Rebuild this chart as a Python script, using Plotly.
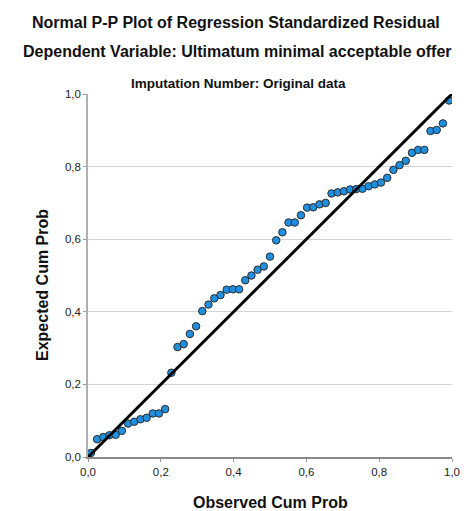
import plotly.graph_objects as go

# Observed vs expected cumulative probabilities of the standardized residuals
observed_cum_prob = [
    0.008, 0.025, 0.042, 0.059, 0.076, 0.093, 0.110, 0.127, 0.144, 0.161,
    0.178, 0.195, 0.212, 0.229, 0.246, 0.263, 0.280, 0.297, 0.314, 0.331,
    0.347, 0.364, 0.381, 0.398, 0.415, 0.432, 0.449, 0.466, 0.483, 0.500,
    0.517, 0.534, 0.551, 0.568, 0.585, 0.602, 0.619, 0.636, 0.653, 0.669,
    0.686, 0.703, 0.720, 0.737, 0.754, 0.771, 0.788, 0.805, 0.822, 0.839,
    0.856, 0.873, 0.890, 0.907, 0.924, 0.941, 0.958, 0.975, 0.992,
]
expected_cum_prob = [
    0.011, 0.049, 0.055, 0.060, 0.061, 0.072, 0.092, 0.097, 0.104, 0.108,
    0.120, 0.120, 0.132, 0.232, 0.303, 0.311, 0.339, 0.360, 0.402, 0.420,
    0.437, 0.446, 0.461, 0.462, 0.462, 0.487, 0.500, 0.516, 0.525, 0.552,
    0.597, 0.619, 0.646, 0.646, 0.666, 0.687, 0.688, 0.696, 0.700, 0.726,
    0.729, 0.732, 0.737, 0.738, 0.739, 0.746, 0.751, 0.756, 0.769, 0.791,
    0.804, 0.816, 0.838, 0.846, 0.846, 0.898, 0.901, 0.919, 0.982,
]
reference_line = [0.0, 1.0]
tick_vals = [0.0, 0.2, 0.4, 0.6, 0.8, 1.0]
tick_text = ["0,0", "0,2", "0,4", "0,6", "0,8", "1,0"]

FONT = "Liberation Sans, Arial, sans-serif"
W, H = 473, 511
L, R, T, B = 88, 21, 94, 54
plot_h = H - T - B


def py(pixel_y):
    """Convert a pixel row to a paper y coordinate."""
    return (H - B - pixel_y) / plot_h


def px(pixel_x):
    return (pixel_x - L) / (W - L - R)


fig = go.Figure()

fig.add_trace(go.Scatter(
    x=observed_cum_prob, y=expected_cum_prob, mode="markers",
    marker=dict(size=7.5, color="#1f8fe0", line=dict(color="#2b2b2b", width=1)),
    hoverinfo="x+y", showlegend=False,
))
fig.add_trace(go.Scatter(
    x=reference_line, y=reference_line, mode="lines",
    line=dict(color="black", width=3), hoverinfo="skip", showlegend=False,
))

axis_common = dict(
    range=[0, 1], tickvals=tick_vals, ticktext=tick_text,
    tickfont=dict(family=FONT, size=11.5, color="#222"),
    zeroline=False, ticks="outside", ticklen=3, tickcolor="#9a9a9a",
    fixedrange=True,
)
fig.update_xaxes(**axis_common, showgrid=False, showline=True,
                 linecolor="#8a8a8a", linewidth=1.5)
fig.update_yaxes(**axis_common, showgrid=True, gridcolor="#d3d3d3",
                 gridwidth=1.2, showline=True, linecolor="#b0b0b0", linewidth=1.5)

annotations = [
    dict(text="<b>Normal P-P Plot of Regression Standardized Residual</b>",
         x=px(236), y=py(23), font=dict(size=16, color="#111")),
    dict(text="<b>Dependent Variable: Ultimatum minimal acceptable offer</b>",
         x=px(237), y=py(51), font=dict(size=16, color="#111")),
    dict(text="<b>Imputation Number: Original data</b>",
         x=px(238), y=py(83), font=dict(size=13.5, color="#111")),
    dict(text="<b>Observed Cum Prob</b>", x=px(270), y=py(502),
         font=dict(size=16, color="#111")),
    dict(text="<b>Expected Cum Prob</b>", x=px(42), y=py(285), textangle=-90,
         font=dict(size=16, color="#111")),
]
for a in annotations:
    a.update(xref="paper", yref="paper", showarrow=False,
             xanchor="center", yanchor="middle")
    a["font"]["family"] = FONT

fig.update_layout(
    width=W, height=H, margin=dict(l=L, r=R, t=T, b=B),
    paper_bgcolor="white", plot_bgcolor="white",
    annotations=annotations, showlegend=False,
)

fig.write_html("out.html")
